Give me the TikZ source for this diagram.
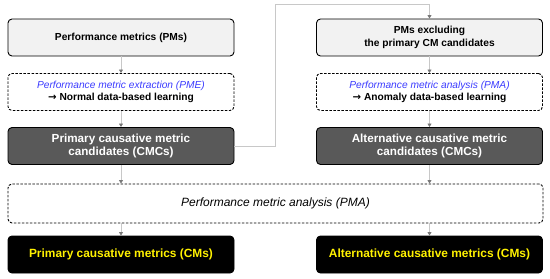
\documentclass[tikz,border=0pt]{standalone}
\usepackage{fontspec}
\setmainfont{Liberation Sans}
\newfontfamily\arrowfont{DejaVu Sans}
\usetikzlibrary{arrows.meta, positioning, calc}

\definecolor{pmgray}{RGB}{242,242,242}
\definecolor{cmcgray}{RGB}{89,89,89}
\definecolor{linkgray}{RGB}{200,200,200}
\definecolor{tipgray}{RGB}{120,120,120}
\definecolor{pmeblue}{RGB}{60,60,255}

\begin{document}
\begin{tikzpicture}[x=1pt, y=-1pt,
  box/.style={draw=black, line width=0.9pt, rounded corners=4pt, minimum width=226pt, minimum height=37pt, align=center, inner sep=0pt},
  pmbox/.style={box, fill=pmgray, font=\bfseries\fontsize{10.2}{12.5}\selectfont},
  learnbox/.style={box, dashed, dash pattern=on 2.5pt off 1.5pt, fill=white, font=\fontsize{10.2}{12.5}\selectfont},
  cmcbox/.style={box, fill=cmcgray, text=white, font=\bfseries\fontsize{11.7}{13.5}\selectfont},
  cmbox/.style={box, fill=black, text=yellow, font=\bfseries\fontsize{11.9}{14}\selectfont},
  flow/.style={draw=linkgray, line width=0.8pt, -{Triangle[length=3.5pt, width=4pt, color=tipgray]}}
]
\useasboundingbox (0,0) rectangle (550,279);

% Left column
\node[pmbox] (pmL) at (121,37.5) {Performance metrics (PMs)};
\node[learnbox] (pme) at (121,92) {{\itshape\color{pmeblue}Performance metric extraction (PME)}\\\textbf{{\arrowfont →} Normal data-based learning}};
\node[cmcbox] (cmcL) at (121,146) {Primary causative metric\\candidates (CMCs)};

% Right column
\node[pmbox] (pmR) at (429.5,37.5) {PMs excluding\\the primary CM candidates};
\node[learnbox] (pma) at (429.5,92) {{\itshape\color{pmeblue}Performance metric analysis (PMA)}\\\textbf{{\arrowfont →} Anomaly data-based learning}};
\node[cmcbox] (cmcR) at (429.5,146) {Alternative causative metric\\candidates (CMCs)};

% Shared analysis and results
\node[box, dashed, dash pattern=on 2.5pt off 1.5pt, minimum width=535pt, minimum height=39pt, font=\itshape\fontsize{12}{14}\selectfont] (pmaAll) at (275.5,203.5) {Performance metric analysis (PMA)};
\node[cmbox] (cmL) at (121,254.5) {Primary causative metrics (CMs)};
\node[cmbox] (cmR) at (429.5,254.5) {Alternative causative metrics (CMs)};

% Arrows
\draw[flow] (pmL) -- (pme);
\draw[flow] (pme) -- (cmcL);
\draw[flow] (pmR) -- (pma);
\draw[flow] (pma) -- (cmcR);
\draw[flow] (cmcL) -- (cmcL.south |- pmaAll.north);
\draw[flow] (cmcR) -- (cmcR.south |- pmaAll.north);
\draw[flow] (cmL.north |- pmaAll.south) -- (cmL);
\draw[flow] (cmR.north |- pmaAll.south) -- (cmR);

% Link to the second pass
\coordinate (turn) at (275,4.5);
\draw[flow] (cmcL.east) -- (cmcL.east -| turn) -- (turn) -- (turn -| pmR.north) -- (pmR.north);

\end{tikzpicture}
\end{document}
